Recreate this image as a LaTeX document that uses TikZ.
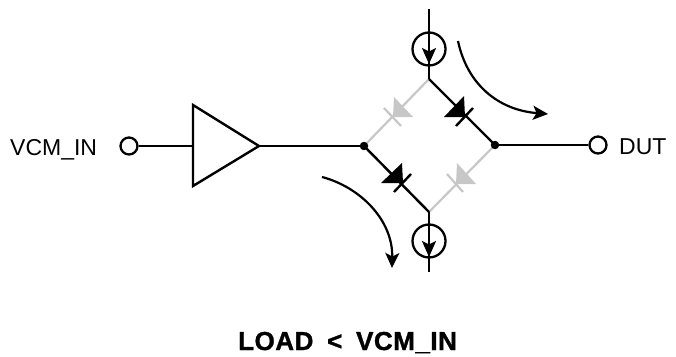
\documentclass[tikz,border=0pt]{standalone}
\usepackage{fontspec}
\setmainfont{Liberation Sans}
\usetikzlibrary{arrows.meta}
\tikzset{
  wire/.style={line width=2.4pt,black},
  gwire/.style={line width=2.2pt,black!22},
  term/.style={circle,draw=black,line width=2.3pt,fill=white,minimum size=17pt,inner sep=0pt},
  src/.style={circle,draw=black,line width=2.3pt,minimum size=33pt,inner sep=0pt},
  dot/.style={circle,fill=black,minimum size=8.5pt,inner sep=0pt},
  lbl/.style={font=\fontsize{23}{26}\selectfont,inner sep=0pt},
  flow/.style={line width=2.2pt,black,-{Stealth[length=15pt,width=14pt,inset=3.5pt]}},
  srcarrow/.style={line width=2.3pt,black,-{Stealth[length=16pt,width=14pt,inset=3.5pt]}}
}
\begin{document}
\begin{tikzpicture}[x=1pt,y=-1pt]
\useasboundingbox (0,0) rectangle (676,356);
\coordinate (L) at (364,146);
\coordinate (R) at (495,145);
\coordinate (T) at (429,79);
\coordinate (B) at (429,212);
\coordinate (Ttop) at (429,9);
\coordinate (Tin) at (429,64);
\coordinate (Bend) at (429,272);
\coordinate (Bin) at (429,257);
% grey wires
\draw[gwire] (L) -- (T);
\draw[gwire] (R) -- (B);
% black wires
\draw[wire] (T) -- (R);
\draw[wire] (L) -- (B);
% diodes
\fill[black!22] (394,97) -- (413,117) -- (393,117) -- cycle;
\draw[gwire] (384,108) -- (401,126);
\fill[black!22] (457,163) -- (476,184) -- (456,184) -- cycle;
\draw[gwire] (447,174) -- (463,192);
\fill[black] (464,96) -- (444,117) -- (465,117) -- cycle;
\draw[wire] (456,126) -- (473,108);
\fill[black] (402,163) -- (381,183) -- (403,183) -- cycle;
\draw[wire] (394,192) -- (411,174);
% current sources
\node[src] (S1) at (429,49) {};
\node[src] (S2) at (429,241) {};
\draw[wire] (Ttop) -- (T);
\draw[srcarrow] (Ttop) -- (Tin);
\draw[wire] (B) -- (Bend);
\draw[srcarrow] (B) -- (Bin);
% buffer
\coordinate (A1) at (193,105);
\coordinate (A2) at (193,186);
\coordinate (A3) at (259,146);
\coordinate (Ain) at (193,146);
\draw[wire,line join=miter] (A1) -- (A3) -- (A2) -- cycle;
\node[term] (IN) at (129,146) {};
\node[term] (OUT) at (598,145) {};
\draw[wire] (IN) -- (Ain);
\draw[wire] (A3) -- (L);
\draw[wire] (R) -- (OUT);
\node[dot] (JL) at (L) {};
\node[dot] (JR) at (R) {};
% flow arrows
\coordinate (F1a) at (458,41);
\coordinate (F1b) at (548,114);
\coordinate (F2a) at (322,177);
\coordinate (F2b) at (392,268);
\draw[flow] (F1a) .. controls (467,84) and (498,110) .. (F1b);
\draw[flow] (F2a) .. controls (360,187) and (393,220) .. (F2b);
% labels
\node[lbl,anchor=west] (vcm) at (10,150) {VCM\_IN};
\node[lbl,anchor=west] (dut) at (619,147) {DUT};
\node[font=\fontsize{26}{30}\selectfont\bfseries,inner sep=0pt,anchor=base west] (title) at (238,350) {\addfontfeature{LetterSpace=2,FakeBold=1.2}LOAD\hspace{6pt} < \hspace{6pt}VCM\_IN};
\end{tikzpicture}
\end{document}
